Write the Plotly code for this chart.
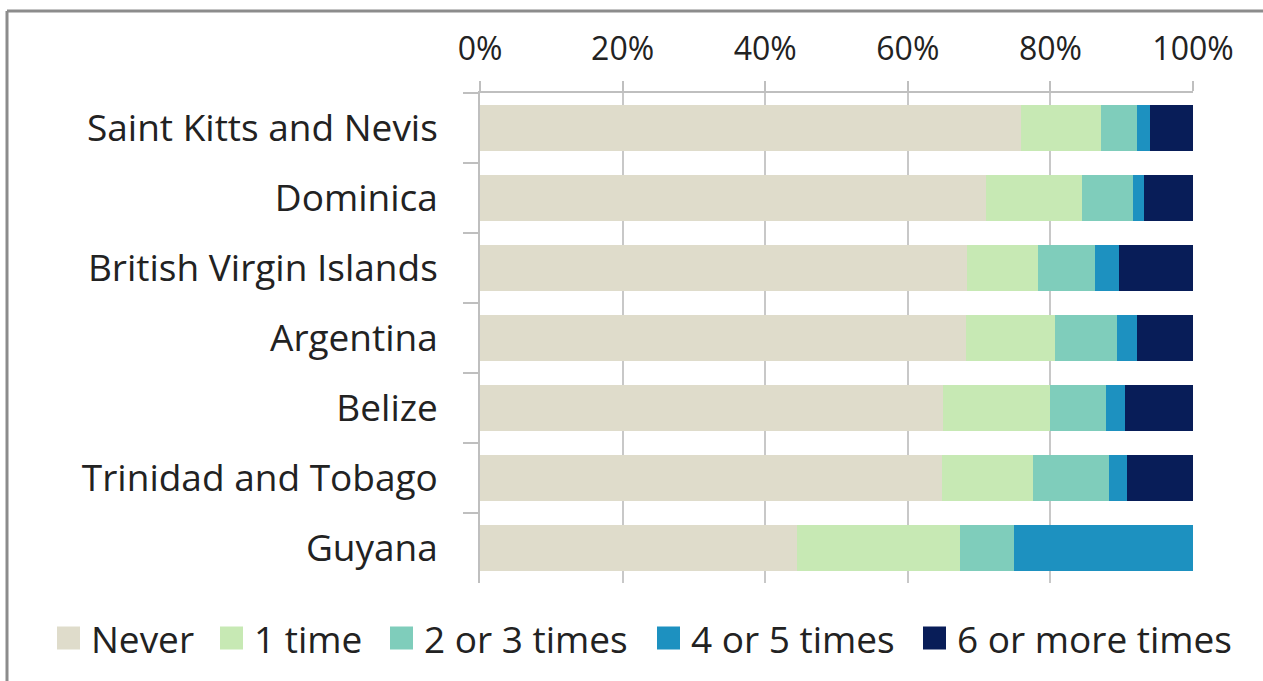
import plotly.graph_objects as go

# Share of respondents (%) by country and frequency
countries = [
    "Saint Kitts and Nevis",
    "Dominica",
    "British Virgin Islands",
    "Argentina",
    "Belize",
    "Trinidad and Tobago",
    "Guyana",
]
never = [75.9, 70.9, 68.3, 68.2, 65.0, 64.8, 44.5]
one_time = [11.2, 13.5, 9.9, 12.5, 14.9, 12.8, 22.8]
two_three = [5.1, 7.2, 8.1, 8.7, 7.9, 10.6, 7.6]
four_five = [1.7, 1.5, 3.3, 2.8, 2.7, 2.6, 25.1]
six_plus = [6.1, 6.9, 10.4, 7.8, 9.5, 9.2, 0.0]

series_names = ["Never", "1 time", "2 or 3 times", "4 or 5 times", "6 or more times"]
series_values = [never, one_time, two_three, four_five, six_plus]
series_colors = ["#DFDCCB", "#C7E9B4", "#7FCDBB", "#1D91C0", "#081D58"]

x_tick_values = [0, 20, 40, 60, 80, 100]
x_tick_labels = ["0%", "20%", "40%", "60%", "80%", "100%"]

# Page geometry (pixels)
W, H = 1263, 681
ML, MR, MT, MB = 480, 70, 93, 98
PW, PH = W - ML - MR, H - MT - MB

def px_x(px):
    return (px - ML) / PW

def px_y(py):
    return (H - MB - py) / PH

FONT = "Open Sans"
TEXT = "#222222"
AXIS = "#BFBFBF"

fig = go.Figure()
for name, vals, col in zip(series_names, series_values, series_colors):
    fig.add_trace(go.Bar(
        y=countries, x=vals, name=name, orientation="h",
        marker=dict(color=col, line=dict(width=0)),
        showlegend=False,
    ))

# Legend drawn as squares + labels below the plot
legend_text_left = [92, 255, 425, 692, 958]
legend_y = 638
sq = 23
shapes = []
annotations = []
for left, name, col in zip(legend_text_left, series_names, series_colors):
    shapes.append(dict(
        type="rect", xref="paper", yref="paper",
        x0=px_x(left - sq - 12), x1=px_x(left - 12),
        y0=px_y(legend_y + sq / 2), y1=px_y(legend_y - sq / 2),
        fillcolor=col, line=dict(width=0), layer="above",
    ))
    annotations.append(dict(
        xref="paper", yref="paper", x=px_x(left - 3), y=px_y(legend_y),
        xanchor="left", yanchor="middle", text=name, showarrow=False,
        font=dict(family=FONT, size=37, color=TEXT),
    ))

# Outer frame (top and left edges)
shapes.append(dict(type="line", xref="paper", yref="paper",
                   x0=px_x(7), x1=px_x(W + 5), y0=px_y(11), y1=px_y(11),
                   line=dict(color="#8C8C8C", width=3)))
shapes.append(dict(type="line", xref="paper", yref="paper",
                   x0=px_x(7), x1=px_x(7), y0=px_y(11), y1=px_y(H + 5),
                   line=dict(color="#8C8C8C", width=3)))

fig.update_layout(
    width=W, height=H,
    margin=dict(l=ML, r=MR, t=MT, b=MB, pad=0),
    barmode="stack", bargap=0.33,
    plot_bgcolor="white", paper_bgcolor="white",
    font=dict(family=FONT, color=TEXT),
    shapes=shapes, annotations=annotations,
    xaxis=dict(
        side="top", range=[0, 100],
        tickvals=x_tick_values, ticktext=x_tick_labels,
        showgrid=True, gridcolor="#C8C8C8", gridwidth=1.5,
        showline=True, linecolor=AXIS, linewidth=1.5,
        ticks="outside", ticklen=10, tickcolor=AXIS, tickwidth=1.5,
        zeroline=False, tickfont=dict(family=FONT, size=32, color=TEXT),
        ticklabelstandoff=8,
    ),
    yaxis=dict(
        autorange="reversed", type="category",
        showline=True, linecolor=AXIS, linewidth=1.5,
        ticks="outside", tickson="boundaries", ticklen=15,
        tickcolor=AXIS, tickwidth=1.5, showgrid=False,
        tickfont=dict(family=FONT, size=37, color=TEXT),
        ticklabelstandoff=33,
    ),
)

fig.write_html("out.html")
